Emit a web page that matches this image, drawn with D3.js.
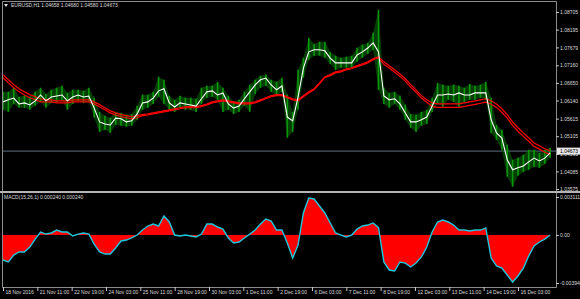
<!DOCTYPE html>
<html>
<head>
<meta charset="utf-8">
<script src="https://cdn.jsdelivr.net/npm/d3@7"></script>
<style>
  body { margin: 0; background: #000; }
  svg { display: block; }
  text { font-family: "Liberation Sans", Arial, sans-serif; font-size: 5px; fill: #dcdcdc; }
</style>
</head>
<body>
<script>
// chart data, one sample every 5 hourly bars
const barStep = 5;
const lastBar = 512;
const ohlc = [1.04658, 1.04680, 1.04580, 1.04673];
const lastPrice = 1.04673;

const priceTicks = [1.08705, 1.08195, 1.07679, 1.07160, 1.06650, 1.06140, 1.05615, 1.05105, 1.04595, 1.04085, 1.03575];
const macdTicks = [0.003111, 0, -0.003946];
const macdTickLabels = ["0.003111", "0.00", "-0.003946"];
const timeTicks = [0, 32, 64, 96, 128, 160, 192, 224, 256, 288, 320, 352, 384, 416, 448, 480];
const timeLabels = ["18 Nov 2016", "21 Nov 11:00", "22 Nov 19:00", "24 Nov 03:00", "25 Nov 11:00", "28 Nov 19:00",
  "30 Nov 03:00", "1 Dec 11:00", "2 Dec 19:00", "6 Dec 03:00", "7 Dec 11:00", "8 Dec 19:00",
  "12 Dec 03:00", "13 Dec 11:00", "14 Dec 19:00", "16 Dec 03:00"];

const hi = [1.0639,1.0639,1.0651,1.0625,1.0628,1.0625,1.0639,1.0651,1.0633,1.0645,
  1.0651,1.0657,1.0636,1.0645,1.0645,1.0642,1.0651,1.0622,1.0581,1.0570,
  1.0564,1.0581,1.0578,1.0573,1.0575,1.0599,1.0631,1.0631,1.0639,1.0683,
  1.0674,1.0628,1.0616,1.0628,1.0622,1.0622,1.0619,1.0651,1.0657,1.0657,
  1.0668,1.0651,1.0628,1.0610,1.0616,1.0639,1.0660,1.0674,1.0686,1.0689,
  1.0674,1.0668,1.0680,1.0631,1.0581,1.0703,1.0738,1.0796,1.0778,1.0784,
  1.0784,1.0755,1.0744,1.0738,1.0741,1.0744,1.0767,1.0776,1.0781,1.0810,
  1.0877,1.0651,1.0636,1.0639,1.0628,1.0602,1.0575,1.0573,1.0581,1.0587,
  1.0622,1.0665,1.0660,1.0657,1.0660,1.0657,1.0651,1.0662,1.0657,1.0660,
  1.0668,1.0622,1.0544,1.0529,1.0486,1.0442,1.0448,1.0457,1.0471,1.0471,
  1.0462,1.0471,1.0477];

const lo = [1.0587,1.0581,1.0604,1.0593,1.0593,1.0587,1.0599,1.0610,1.0593,1.0607,
  1.0610,1.0613,1.0587,1.0604,1.0613,1.0607,1.0610,1.0564,1.0523,1.0529,
  1.0520,1.0544,1.0541,1.0538,1.0541,1.0558,1.0587,1.0593,1.0604,1.0625,
  1.0604,1.0587,1.0581,1.0593,1.0587,1.0587,1.0581,1.0604,1.0622,1.0625,
  1.0616,1.0581,1.0587,1.0575,1.0581,1.0599,1.0581,1.0633,1.0651,1.0657,
  1.0639,1.0628,1.0639,1.0506,1.0523,1.0587,1.0680,1.0732,1.0744,1.0744,
  1.0738,1.0720,1.0703,1.0709,1.0709,1.0709,1.0726,1.0738,1.0749,1.0761,
  1.0645,1.0604,1.0593,1.0604,1.0587,1.0558,1.0535,1.0523,1.0541,1.0546,
  1.0581,1.0607,1.0596,1.0616,1.0610,1.0596,1.0610,1.0616,1.0616,1.0622,
  1.0616,1.0520,1.0500,1.0471,1.0393,1.0364,1.0396,1.0407,1.0413,1.0422,
  1.0419,1.0430,1.0448];

const fast = [1.0610,1.0616,1.0621,1.0604,1.0607,1.0601,1.0613,1.0630,1.0613,1.0624,
  1.0627,1.0630,1.0613,1.0624,1.0630,1.0624,1.0627,1.0592,1.0552,1.0546,
  1.0543,1.0563,1.0561,1.0552,1.0555,1.0575,1.0607,1.0610,1.0621,1.0642,
  1.0648,1.0607,1.0595,1.0607,1.0604,1.0601,1.0598,1.0619,1.0639,1.0642,
  1.0630,1.0636,1.0604,1.0592,1.0598,1.0619,1.0639,1.0659,1.0674,1.0679,
  1.0659,1.0645,1.0656,1.0566,1.0555,1.0624,1.0708,1.0755,1.0761,1.0761,
  1.0758,1.0737,1.0723,1.0723,1.0723,1.0723,1.0746,1.0755,1.0766,1.0781,
  1.0755,1.0627,1.0616,1.0619,1.0604,1.0578,1.0552,1.0552,1.0558,1.0566,
  1.0598,1.0630,1.0630,1.0633,1.0630,1.0636,1.0630,1.0630,1.0636,1.0636,
  1.0636,1.0558,1.0520,1.0505,1.0442,1.0413,1.0419,1.0424,1.0436,1.0447,
  1.0439,1.0447,1.0462];

const ma1 = [1.0689,1.0674,1.0660,1.0648,1.0639,1.0631,1.0625,1.0619,1.0616,1.0616,
  1.0613,1.0613,1.0613,1.0616,1.0616,1.0616,1.0616,1.0610,1.0602,1.0593,
  1.0584,1.0578,1.0573,1.0570,1.0567,1.0570,1.0573,1.0575,1.0578,1.0581,
  1.0584,1.0587,1.0590,1.0593,1.0596,1.0596,1.0596,1.0599,1.0604,1.0610,
  1.0613,1.0616,1.0613,1.0610,1.0607,1.0607,1.0607,1.0610,1.0616,1.0622,
  1.0628,1.0631,1.0631,1.0625,1.0619,1.0616,1.0628,1.0639,1.0648,1.0665,
  1.0683,1.0689,1.0697,1.0700,1.0706,1.0709,1.0715,1.0720,1.0726,1.0735,
  1.0741,1.0726,1.0715,1.0703,1.0691,1.0677,1.0660,1.0645,1.0628,1.0616,
  1.0607,1.0604,1.0604,1.0604,1.0604,1.0604,1.0607,1.0610,1.0613,1.0616,
  1.0619,1.0613,1.0604,1.0590,1.0573,1.0552,1.0535,1.0520,1.0506,1.0491,
  1.0483,1.0474,1.0468];

const ma2 = [1.0680,1.0665,1.0651,1.0639,1.0630,1.0622,1.0616,1.0610,1.0610,1.0610,
  1.0607,1.0607,1.0607,1.0610,1.0610,1.0610,1.0610,1.0604,1.0596,1.0587,
  1.0578,1.0572,1.0567,1.0564,1.0561,1.0564,1.0570,1.0572,1.0575,1.0578,
  1.0581,1.0584,1.0587,1.0590,1.0593,1.0593,1.0593,1.0596,1.0601,1.0607,
  1.0610,1.0613,1.0610,1.0607,1.0604,1.0604,1.0604,1.0607,1.0613,1.0619,
  1.0625,1.0628,1.0628,1.0622,1.0616,1.0613,1.0625,1.0636,1.0645,1.0662,
  1.0680,1.0686,1.0694,1.0697,1.0703,1.0706,1.0712,1.0717,1.0723,1.0732,
  1.0738,1.0719,1.0708,1.0696,1.0684,1.0670,1.0653,1.0638,1.0621,1.0609,
  1.0597,1.0594,1.0594,1.0594,1.0594,1.0594,1.0597,1.0600,1.0603,1.0606,
  1.0609,1.0603,1.0594,1.0580,1.0563,1.0542,1.0525,1.0510,1.0496,1.0481,
  1.0473,1.0464,1.0458];

const macd = [-0.00206,-0.00222,-0.00165,-0.00140,-0.00140,-0.00099,-0.00034,0.00024,0.00007,0.00016,
  0.00040,0.00024,0.00024,-0.00009,0.00007,0.00016,0.00007,-0.00075,-0.00140,-0.00157,
  -0.00157,-0.00107,-0.00050,-0.00042,-0.00025,-0.00001,0.00040,0.00073,0.00089,0.00073,
  0.00155,0.00106,-0.00001,-0.00009,-0.00001,-0.00009,-0.00017,0.00007,0.00089,0.00089,
  0.00065,0.00048,-0.00025,-0.00066,-0.00058,-0.00025,0.00007,0.00040,0.00089,0.00130,
  0.00114,0.00040,0.00040,-0.00066,-0.00190,-0.00083,0.00180,0.00303,0.00295,0.00237,
  0.00180,0.00098,0.00016,-0.00001,-0.00017,-0.00001,0.00048,0.00073,0.00081,0.00098,
  0.00060,-0.00222,-0.00288,-0.00296,-0.00222,-0.00231,-0.00263,-0.00231,-0.00181,-0.00099,
  0.00024,0.00106,0.00122,0.00106,0.00081,0.00040,0.00040,0.00032,0.00040,0.00040,
  0.00057,-0.00190,-0.00255,-0.00272,-0.00329,-0.00387,-0.00337,-0.00272,-0.00173,-0.00091,
  -0.00058,-0.00034,-0.00001];

// layout
const width = 580, height = 299;
const plotLeft = 2, plotRight = 556;
const mainTop = 1, mainBottom = 191;
const subTop = 193, subBottom = 287;

const svg = d3.select("body").append("svg")
    .attr("width", width)
    .attr("height", height);

svg.append("rect").attr("width", width).attr("height", height).attr("fill", "#000");

// scales
const x = d3.scaleLinear().domain([0, lastBar]).range([3, 552.3]);
const y = d3.scaleLinear().domain([1.03575, 1.08705]).range([189, 12]);
const yM = d3.scaleLinear().domain([-0.003946, 0.003111]).range([283, 197]);
const bx = (d, i) => x(i * barStep);

// clip paths
const defs = svg.append("defs");
defs.append("clipPath").attr("id", "clip-main").append("rect")
    .attr("x", plotLeft).attr("y", mainTop).attr("width", plotRight - plotLeft).attr("height", mainBottom - mainTop);
defs.append("clipPath").attr("id", "clip-sub").append("rect")
    .attr("x", plotLeft).attr("y", subTop).attr("width", plotRight - plotLeft).attr("height", subBottom - subTop);

const main = svg.append("g").attr("clip-path", "url(#clip-main)");

// current price line
main.append("line")
    .attr("x1", plotLeft).attr("x2", plotRight)
    .attr("y1", y(lastPrice)).attr("y2", y(lastPrice))
    .attr("stroke", "#4a5966")
    .attr("stroke-width", 1.2);

// green price bars: faint high-low band plus a bar per sample
main.append("path")
    .datum(hi)
    .attr("fill", "#067006")
    .attr("opacity", 0.55)
    .attr("d", d3.area().x(bx).y0((d, i) => y(lo[i])).y1(d => y(d)));

main.selectAll(".hl")
  .data(hi)
  .join("line")
    .attr("class", "hl")
    .attr("x1", bx).attr("x2", bx)
    .attr("y1", d => y(d))
    .attr("y2", (d, i) => y(lo[i]))
    .attr("stroke", "#0c960c")
    .attr("stroke-width", 1.6);

// red moving averages
[ma1, ma2].forEach(s => {
  main.append("path")
      .datum(s)
      .attr("fill", "none")
      .attr("stroke", "#ff0000")
      .attr("stroke-width", 1.2)
      .attr("d", d3.line().x(bx).y(d => y(d)));
});

// white fast average
main.append("path")
    .datum(fast)
    .attr("fill", "none")
    .attr("stroke", "#ffffff")
    .attr("stroke-width", 1.1)
    .attr("d", d3.line().x(bx).y(d => y(d)));

// MACD sub window
const sub = svg.append("g").attr("clip-path", "url(#clip-sub)");
sub.append("path")
    .datum(macd)
    .attr("fill", "#ff0000")
    .attr("d", d3.area().x(bx).y0(yM(0)).y1(d => yM(d)));
sub.append("path")
    .datum(macd)
    .attr("fill", "none")
    .attr("stroke", "#1ec8dc")
    .attr("stroke-width", 1.4)
    .attr("d", d3.line().x(bx).y(d => yM(d)));

// frames
svg.append("path")
    .attr("d", `M${plotLeft + 0.5},${subBottom + 0.5}V${mainTop + 0.5}H${plotRight + 0.5}V${subBottom + 0.5}H${plotLeft + 0.5}`)
    .attr("fill", "none")
    .attr("stroke", "#8c8c8c");
svg.append("rect")
    .attr("x", 0).attr("y", mainBottom).attr("width", width).attr("height", 2)
    .attr("fill", "#b4b4b4");

// right axes
const styleAxis = g => {
  g.select(".domain").remove();
  g.selectAll(".tick line").attr("stroke", "#c8c8c8");
  g.selectAll(".tick text").attr("fill", "#dcdcdc").style("font-size", "5px")
      .style("font-family", "'Liberation Sans', Arial, sans-serif");
};

svg.append("g")
    .attr("transform", `translate(${plotRight},0)`)
    .call(d3.axisRight(y).tickValues(priceTicks).tickFormat(d3.format(".5f")).tickSize(3).tickPadding(1))
    .call(styleAxis);

svg.append("g")
    .attr("transform", `translate(${plotRight},0)`)
    .call(d3.axisRight(yM).tickValues(macdTicks).tickFormat((d, i) => macdTickLabels[i]).tickSize(3).tickPadding(1))
    .call(styleAxis);

// current price label (covers the 1.04595 tick, as in the terminal)
svg.append("rect")
    .attr("x", plotRight + 1).attr("y", y(lastPrice) - 3.5)
    .attr("width", 24).attr("height", 7)
    .attr("fill", "#e8e8e8");
svg.append("text")
    .attr("x", plotRight + 4).attr("y", y(lastPrice))
    .attr("dy", "0.35em")
    .style("fill", "#000")
    .text(d3.format(".5f")(lastPrice));

// bottom time axis
const xAxis = svg.append("g")
    .attr("transform", `translate(0,${subBottom})`)
    .call(d3.axisBottom(x).tickValues(timeTicks).tickFormat((d, i) => timeLabels[i]).tickSize(4))
    .call(styleAxis);
xAxis.selectAll(".tick text")
    .attr("text-anchor", "start")
    .attr("x", 2)
    .attr("y", 3.5);

// titles
svg.append("path")
    .attr("d", "M4,4H8L6,7Z")
    .attr("fill", "#dcdcdc");
svg.append("text")
    .attr("x", 11).attr("y", 7)
    .text("EURUSD,H1  " + ohlc.map(d3.format(".5f")).join(" "));

svg.append("text")
    .attr("x", 4).attr("y", 199)
    .text("MACD(15,26,1) 0.000240 0.000240");
</script>
</body>
</html>
